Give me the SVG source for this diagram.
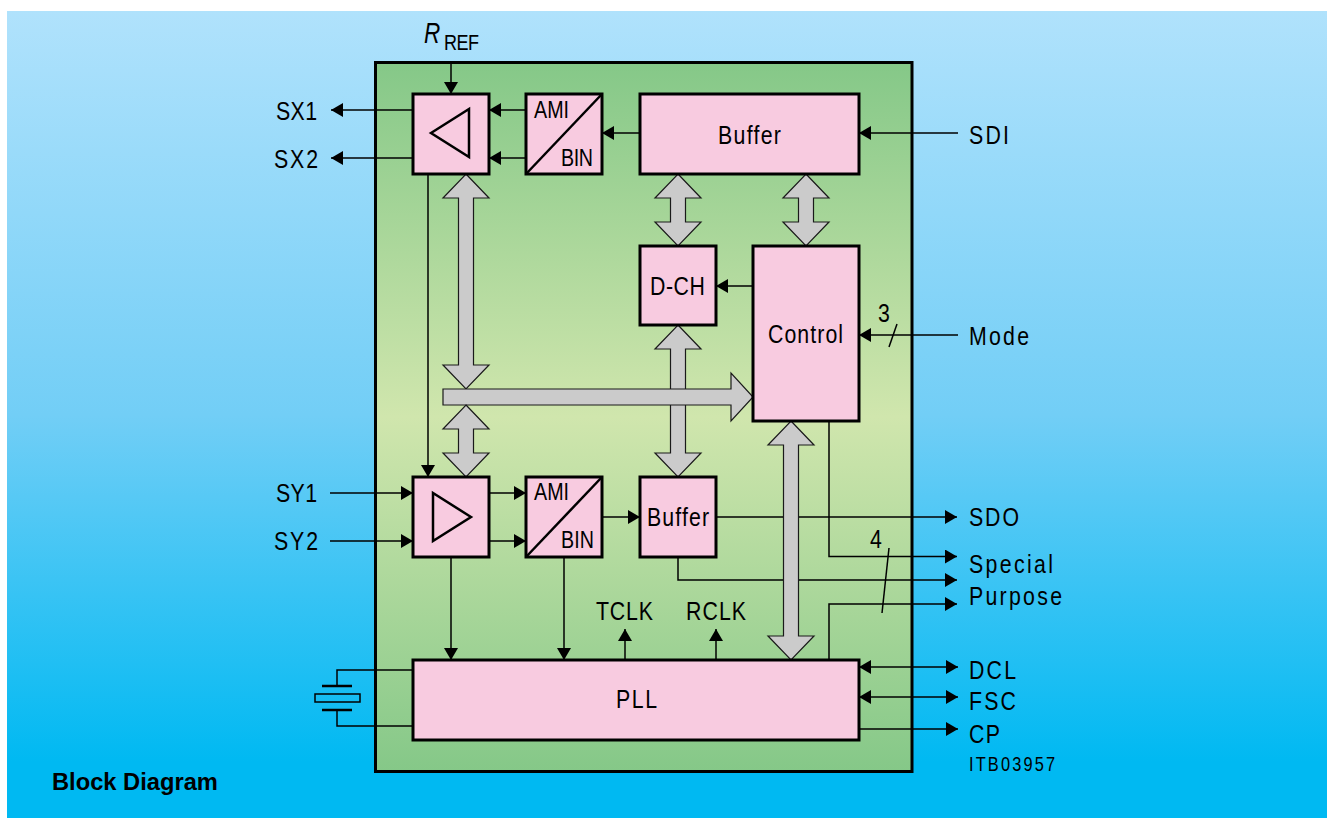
<svg xmlns="http://www.w3.org/2000/svg" width="1327" height="818" viewBox="0 0 1327 818">
<style>
.bl{fill:#f8cbe0;stroke:#000;stroke-width:3}
.ln{fill:none;stroke:#000;stroke-width:1.5}
.a{marker-end:url(#ah)}
.d{marker-start:url(#ah);marker-end:url(#ah)}
.big{fill:#cbcbcb;stroke:#1a1a1a;stroke-width:1.2}
text{font-family:"Liberation Sans",Arial,sans-serif;font-size:26px;fill:#000}
.m{font-size:24px}
</style>
<defs>
<linearGradient id="bg" x1="0" y1="0" x2="0" y2="1"><stop offset="0" stop-color="#b0e2fc"/><stop offset="0.5" stop-color="#72cef6"/><stop offset="0.93" stop-color="#00b9f2"/><stop offset="1" stop-color="#00b9f2"/></linearGradient>
<linearGradient id="gr" x1="0" y1="0" x2="0" y2="1"><stop offset="0" stop-color="#85c888"/><stop offset="0.5" stop-color="#d0e6ad"/><stop offset="1" stop-color="#85c888"/></linearGradient>
<marker id="ah" markerUnits="userSpaceOnUse" markerWidth="13" markerHeight="14" refX="12" refY="7" orient="auto-start-reverse"><path d="M0 0L12 7L0 14Z" fill="#000"/></marker>
</defs>
<rect id="background" x="7" y="11" width="1320" height="807" fill="url(#bg)"/>
<rect id="chip" x="375.5" y="62.5" width="536.5" height="709" fill="url(#gr)" stroke="#000" stroke-width="3"/>
<g id="connectors">
<path class="ln a" d="M451 62V94"/>
<path class="ln a" d="M413 110H331"/>
<path class="ln a" d="M413 158H331"/>
<path class="ln a" d="M526 110H489"/>
<path class="ln a" d="M526 158H489"/>
<path class="ln a" d="M640 133H602"/>
<path class="ln a" d="M958 133H859"/>
<path class="ln a" d="M753 286H716"/>
<path class="ln a" d="M958 335H859"/>
<path class="ln" d="M897 324L889 347"/>
<path class="ln a" d="M428 174V477"/>
<path class="ln a" d="M330 493H413"/>
<path class="ln a" d="M330 541H413"/>
<path class="ln a" d="M489 493H526"/>
<path class="ln a" d="M489 541H526"/>
<path class="ln a" d="M602 517H640"/>
<path class="ln a" d="M716 517H957"/>
<path class="ln a" d="M829 421V556.500H957"/>
<path class="ln a" d="M678 557V580H957"/>
<path class="ln a" d="M829 660V604H957"/>
<path class="ln" d="M889 548L882 613"/>
<path class="ln a" d="M451 557V660"/>
<path class="ln a" d="M564 557V660"/>
<path class="ln a" d="M625 660V629"/>
<path class="ln a" d="M716 660V629"/>
<path class="ln d" d="M859 667H958"/>
<path class="ln d" d="M859 697H958"/>
<path class="ln a" d="M859 729H958"/>
<path class="ln" d="M413 670H337V686M337 710V726H413"/>
<path d="M322 686H352M322 710H352" fill="none" stroke="#000" stroke-width="2.500"/>
<rect x="315" y="694" width="45" height="8" fill="none" stroke="#000" stroke-width="1.500"/>
<path class="big" d="M678 325L701 349H685.500V453H701L678 477L655 453H670.500V349H655Z"/>
<path class="big" d="M466 174L489 198H473.500V365H489L466 389L443 365H458.500V198H443Z"/>
<path class="big" d="M443 389H731V373L753 397L731 421V405H443Z"/>
<path class="big" d="M466 405L489 429H473.500V453H489L466 477L443 453H458.500V429H443Z"/>
<path class="big" d="M678 174L701 198H685.500V222H701L678 246L655 222H670.500V198H655Z"/>
<path class="big" d="M806 174L829 198H813.500V222H829L806 246L783 222H798.500V198H783Z"/>
<path class="big" d="M791 421L814 445H798.500V636H814L791 660L768 636H783.500V445H768Z"/>
</g>
<g id="node-sx"><rect class="bl" x="413" y="94" width="76" height="80"/><path d="M431 133L469 109V157Z" fill="none" stroke="#000" stroke-width="2.500"/></g>
<g id="node-ami-top"><rect class="bl" x="526" y="94" width="76" height="80"/><path d="M526 174L602 94" stroke="#000" stroke-width="2.500"/><text class="m" transform="translate(534 118) scale(.82 1)" textLength="42.700">AMI</text><text class="m" transform="translate(561 166) scale(.82 1)" textLength="39">BIN</text></g>
<g id="node-buffer-top"><rect class="bl" x="640" y="94" width="219" height="80"/><text transform="translate(718 144) scale(.82 1)" textLength="76.800">Buffer</text></g>
<g id="node-dch"><rect class="bl" x="640" y="246" width="76" height="79"/><text transform="translate(650 295) scale(.82 1)" textLength="67">D-CH</text></g>
<g id="node-control"><rect class="bl" x="753" y="246" width="106" height="175"/><text transform="translate(768 343) scale(.82 1)" textLength="91.500">Control</text></g>
<g id="node-sy"><rect class="bl" x="413" y="477" width="76" height="80"/><path d="M471 517L433 493V541Z" fill="none" stroke="#000" stroke-width="2.500"/></g>
<g id="node-ami-bottom"><rect class="bl" x="526" y="477" width="76" height="80"/><path d="M526 557L602 477" stroke="#000" stroke-width="2.500"/><text class="m" transform="translate(534 500) scale(.82 1)" textLength="42.700">AMI</text><text class="m" transform="translate(561 548) scale(.82 1)" textLength="40.200">BIN</text></g>
<g id="node-buffer-bottom"><rect class="bl" x="640" y="477" width="76" height="80"/><text transform="translate(647 526) scale(.82 1)" textLength="75.600">Buffer</text></g>
<g id="node-pll"><rect class="bl" x="413" y="660" width="446" height="80"/><text transform="translate(616 708) scale(.82 1)" textLength="50">PLL</text></g>
<g id="labels">
<text transform="translate(424 43) scale(.75 1)" font-style="italic" style="font-size:30px">R</text>
<text transform="translate(444 50) scale(.82 1)" style="font-size:22px" textLength="42.700">REF</text>
<text transform="translate(276 120) scale(.82 1)" textLength="50">SX1</text>
<text transform="translate(274 168) scale(.82 1)" textLength="53.700">SX2</text>
<text transform="translate(276 502) scale(.82 1)" textLength="50">SY1</text>
<text transform="translate(274 550) scale(.82 1)" textLength="53.700">SY2</text>
<text transform="translate(969 144) scale(.82 1)" textLength="48.800">SDI</text>
<text transform="translate(878 322) scale(.82 1)">3</text>
<text transform="translate(969 345) scale(.82 1)" textLength="73.200">Mode</text>
<text transform="translate(969 526) scale(.82 1)" textLength="61">SDO</text>
<text transform="translate(870 548) scale(.82 1)">4</text>
<text transform="translate(969 573) scale(.82 1)" textLength="102.400">Special</text>
<text transform="translate(969 605) scale(.82 1)" textLength="113.400">Purpose</text>
<text transform="translate(596 620) scale(.82 1)" textLength="69.500">TCLK</text>
<text transform="translate(686 620) scale(.82 1)" textLength="73.200">RCLK</text>
<text transform="translate(969 679) scale(.82 1)" textLength="57.300">DCL</text>
<text transform="translate(969 710) scale(.82 1)" textLength="57.300">FSC</text>
<text transform="translate(969 743) scale(.82 1)" textLength="37.800">CP</text>
<text transform="translate(969 771) scale(.82 1)" style="font-size:20px" textLength="104.900">ITB03957</text>
<text x="52" y="790" font-weight="bold" style="font-size:23.700px">Block Diagram</text>
</g>
</svg>
